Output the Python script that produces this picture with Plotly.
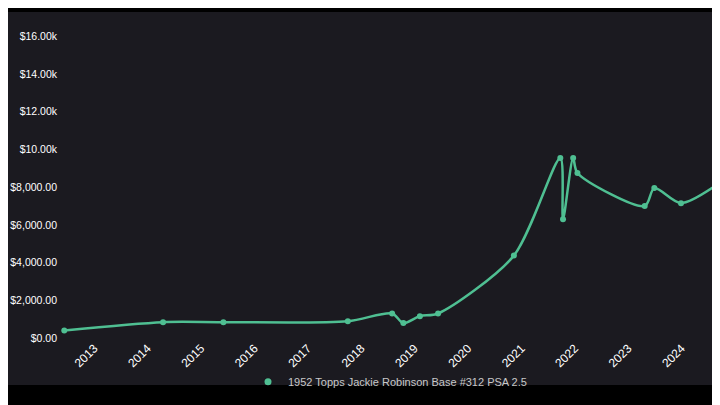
import plotly.graph_objects as go

# decimal years
anos = [2012.44, 2014.29, 2015.42, 2017.75, 2018.58, 2018.79, 2019.1, 2019.44,
        2020.86, 2021.73, 2021.78, 2021.97, 2022.05, 2023.31, 2023.49, 2023.99, 2024.85]
precios = [400, 840, 840, 890, 1300, 790, 1160, 1300,
           4370, 9550, 6300, 9550, 8750, 7000, 7950, 7150, 8500]

ticks_y = [0, 2000, 4000, 6000, 8000, 10000, 12000, 14000, 16000]
etiquetas_y = ['$0.00', '$2,000.00', '$4,000.00', '$6,000.00', '$8,000.00',
               '$10.00k', '$12.00k', '$14.00k', '$16.00k']
ticks_x = list(range(2013, 2026))
nombre = '1952 Topps Jackie Robinson Base #312 PSA 2.5'

verde = '#4fbf92'
fig = go.Figure()
fig.add_trace(go.Scatter(
    x=anos, y=precios, mode='lines+markers', showlegend=False,
    line=dict(color=verde, width=2.5, shape='spline', smoothing=0.8),
    marker=dict(color=verde, size=6), name=nombre))
# solo para la leyenda (punto sin linea)
fig.add_trace(go.Scatter(x=[None], y=[None], mode='markers',
                         marker=dict(color=verde, size=7), name=nombre))

alto = 313
fig.add_shape(type='rect', xref='paper', yref='paper', x0=-0.2, x1=1.1,
              y0=1 + 13 / alto, y1=1 + 30 / alto, fillcolor='#000000', line_width=0, layer='below')
fig.add_shape(type='rect', xref='paper', yref='paper', x0=-0.2, x1=1.1,
              y0=-47 / alto, y1=-80 / alto, fillcolor='#000000', line_width=0, layer='below')

fig.update_layout(
    width=720, height=405,
    margin=dict(l=52, r=8, t=17, b=75),
    paper_bgcolor='#1b1a20', plot_bgcolor='#1b1a20',
    font=dict(family='Liberation Sans, Arial', color='#ffffff', size=12),
    showlegend=True,
    legend=dict(orientation='h', x=0.5, xanchor='center', y=-0.14, yanchor='middle',
                bgcolor='rgba(0,0,0,0)',
                font=dict(color='#c8c8c8', size=11)),
    xaxis=dict(range=[2012.36, 2024.72], tickvals=ticks_x, ticktext=[str(t) for t in ticks_x],
               tickangle=-45, showgrid=False, zeroline=False, showline=False, automargin=False,
               tickfont=dict(size=12, color='#ffffff')),
    yaxis=dict(range=[0, 16600], tickvals=ticks_y, ticktext=etiquetas_y, automargin=False,
               showgrid=False, zeroline=False, showline=False, ticklabelstandoff=2,
               tickfont=dict(size=10.5, color='#ffffff')),
)

fig.write_html("out.html")
